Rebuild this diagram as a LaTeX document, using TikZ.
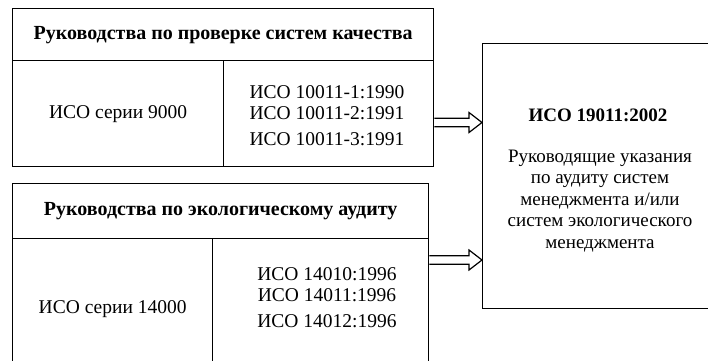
\documentclass[tikz,border=0pt]{standalone}
\usepackage{fontspec}
\setmainfont{Liberation Serif}
\usetikzlibrary{calc}
\newcommand\hollowarrow[2]{%
  \draw[line width=1.2pt, fill=white, line join=miter]
    ($(#1)+(0,-4.3)$) -- ($(#2)+(-13,-4.3)$) -- ($(#2)+(-13,-10)$) -- (#2)
    -- ($(#2)+(-13,10)$) -- ($(#2)+(-13,4.3)$) -- ($(#1)+(0,4.3)$);}
\begin{document}
\begin{tikzpicture}[x=1pt,y=-1pt,
  cell/.style={draw, line width=1.3pt, anchor=north west, inner sep=0pt, align=center},
  hdr/.style={font=\fontsize{20}{22}\selectfont\bfseries},
  txt/.style={font=\fontsize{19.5}{21}\selectfont}
]
\useasboundingbox (0,0) rectangle (708,360);
\fill[white] (0,0) rectangle (708,360);
\clip (0,0) rectangle (708,360);
% top group
\node[cell, minimum width=421pt, minimum height=52pt, hdr] (h1) at (12,8) {Руководства по проверке систем качества};
\node[cell, minimum width=211pt, minimum height=106pt, txt] (a1) at (12,60) {ИСО серии 9000};
\node[cell, minimum width=210pt, minimum height=106pt] (b1) at (223,60) {};
\node[txt, align=center] (b1t) at (327,115.5) {ИСО 10011-1:1990\\ИСО 10011-2:1991\\[5pt]ИСО 10011-3:1991};
% bottom group
\node[cell, minimum width=416pt, minimum height=55pt, hdr] (h2) at (12,183) {Руководства по экологическому аудиту};
\node[cell, minimum width=200pt, minimum height=140pt, txt] (a2) at (12,238) {ИСО серии 14000};
\node[cell, minimum width=216pt, minimum height=140pt] (b2) at (212,238) {};
\node[txt, align=center] (b2t) at (327,297.5) {ИСО 14010:1996\\ИСО 14011:1996\\[5pt]ИСО 14012:1996};
% right box
\node[cell, minimum width=232pt, minimum height=265pt] (r) at (482,43) {};
\node[font=\fontsize{19}{21}\selectfont\bfseries] (rt) at (598,115) {ИСО 19011:2002};
\node[font=\fontsize{19}{21.5}\selectfont, align=center] (rd) at (600,201) {Руководящие указания\\по аудиту систем\\менеджмента и/или\\систем экологического\\менеджмента};
% arrows
\coordinate (p1) at (433,122.5);
\coordinate (p2) at (428,260);
\coordinate (s1) at (b1.east |- p1);
\coordinate (e1) at (r.west |- p1);
\coordinate (s2) at (b2.east |- p2);
\coordinate (e2) at (r.west |- p2);
\hollowarrow{s1}{e1}
\hollowarrow{s2}{e2}
\end{tikzpicture}
\end{document}
